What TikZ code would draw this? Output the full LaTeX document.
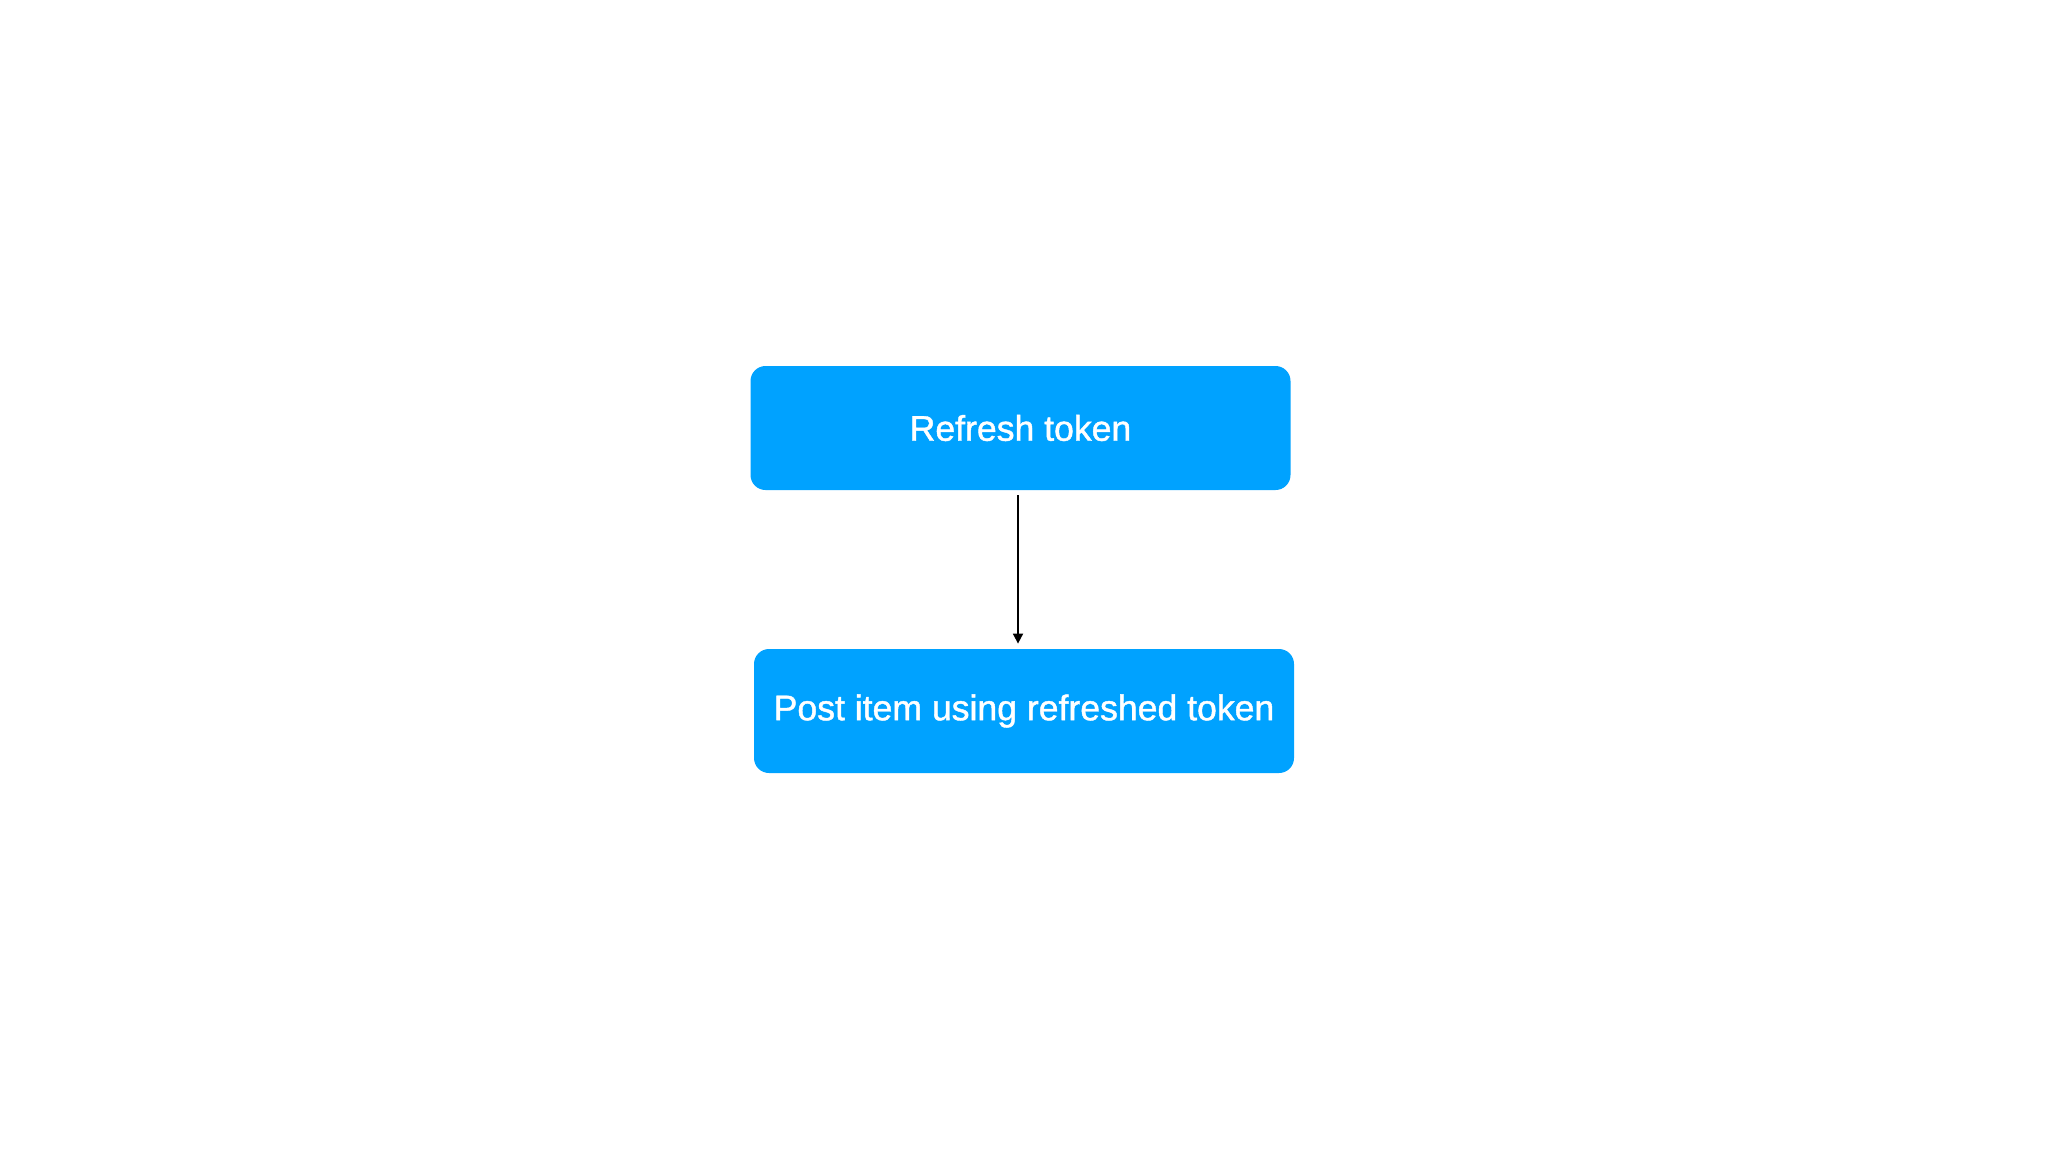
\documentclass[tikz,border=0pt]{standalone}
\usepackage{fontspec}
\setmainfont{Liberation Sans}
\newfontfamily\medfont[FakeBold=1.2]{Liberation Sans}
\usetikzlibrary{arrows.meta}
\definecolor{boxblue}{HTML}{00A2FF}
\begin{document}
\begin{tikzpicture}[x=0.5pt,y=-0.5pt,
  box/.style={fill=boxblue, rounded corners=7.5pt, minimum width=270pt, minimum height=62pt, inner sep=0pt, text=white, font=\medfont\fontsize{17.8}{21}\selectfont},
  conn/.style={line width=0.9pt, -{Triangle[length=5pt,width=5pt]}}]
\useasboundingbox[fill=white] (0,0) rectangle (2048,1152);
\node[box] (b1) at (1020.5,428) {\raisebox{-2pt}{Refresh token}};
\node[box] (b2) at (1024,711) {\raisebox{-4pt}{Post item using refreshed token}};
\draw[conn, shorten <=2.5pt, shorten >=2.5pt] ([xshift=-1.25pt]b1.south) -- ([xshift=-3pt]b2.north);
\end{tikzpicture}
\end{document}
